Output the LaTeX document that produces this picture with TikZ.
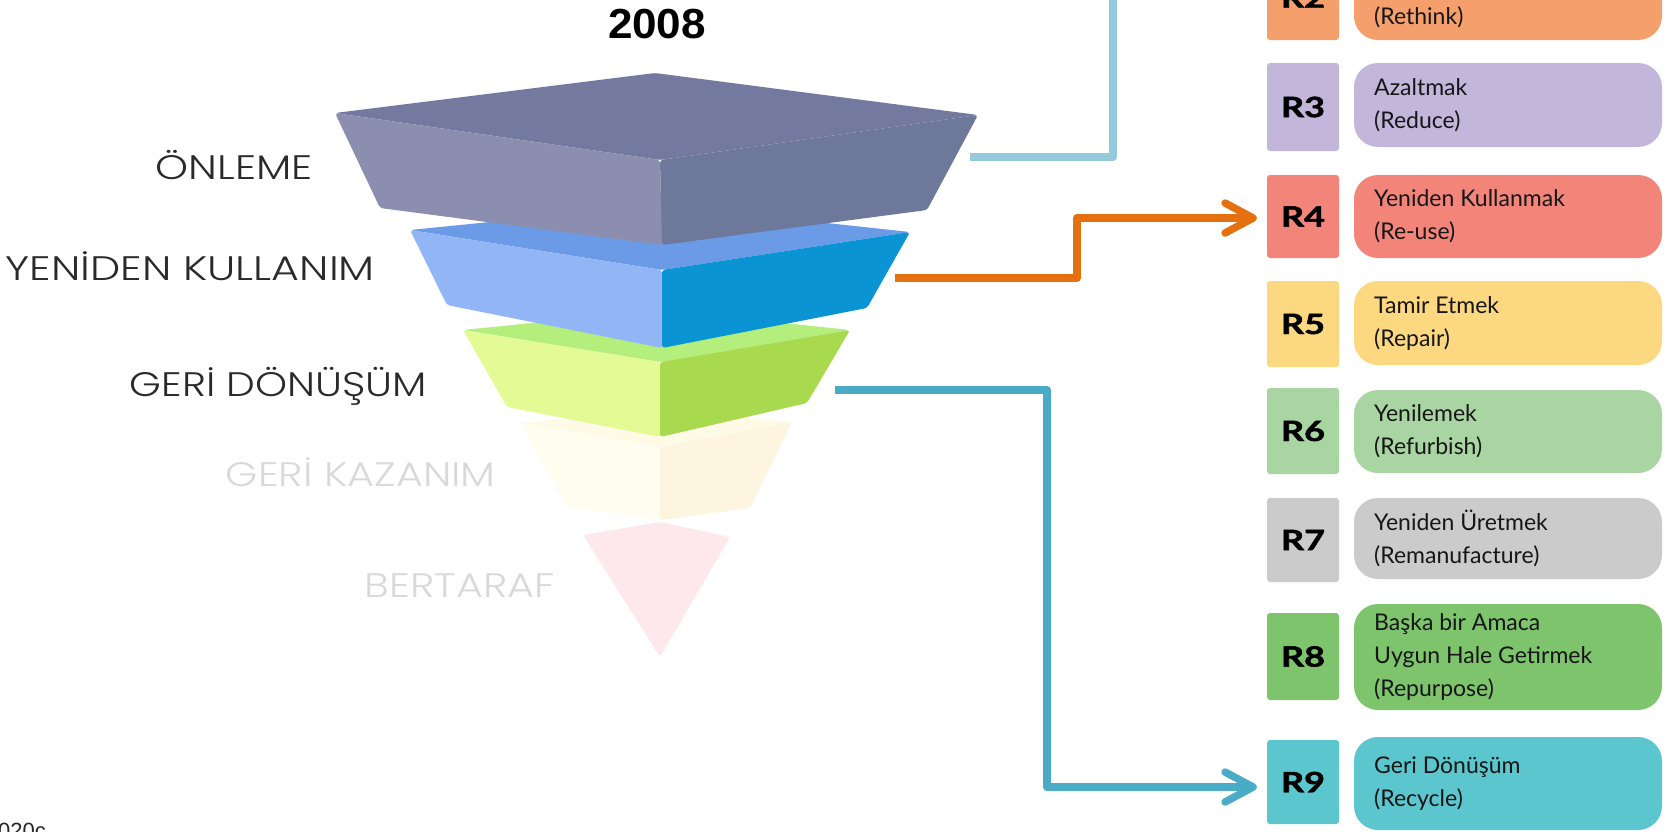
\documentclass[tikz,border=0pt]{standalone}
\usepackage{fontspec}
\usepackage{graphicx}
\usetikzlibrary{arrows.meta}
\newfontfamily\pillfont{Lato}
\newfontfamily\rfont{Lato}[BoldFeatures={FakeBold=1.6}]
\newfontfamily\labfont{Poppins Light}
\newfontfamily\arialfont{Liberation Sans}

\definecolor{cRtwo}{HTML}{F5A06C}
\definecolor{cRthree}{HTML}{C2B7DB}
\definecolor{cRfour}{HTML}{F3847A}
\definecolor{cRfive}{HTML}{FCD880}
\definecolor{cRsix}{HTML}{A8D5A2}
\definecolor{cRseven}{HTML}{CBCBCB}
\definecolor{cReight}{HTML}{7DC46C}
\definecolor{cRnine}{HTML}{5BC6CE}
\definecolor{pilltext}{HTML}{161616}
\definecolor{labdark}{HTML}{2A2A2A}
\definecolor{labfaint}{HTML}{D9D9D9}
\definecolor{lineA}{HTML}{94CADB}
\definecolor{lineB}{HTML}{E5700F}
\definecolor{lineC}{HTML}{4AABC6}
\definecolor{gTop}{HTML}{7479A0}
\definecolor{gLeft}{HTML}{8C8EAF}
\definecolor{gRight}{HTML}{6D789B}
\definecolor{bTop}{HTML}{6B9BE6}
\definecolor{bLeft}{HTML}{92B5F6}
\definecolor{bRight}{HTML}{0A94D3}
\definecolor{nTop}{HTML}{B4EE7C}
\definecolor{nLeft}{HTML}{E4FA94}
\definecolor{nRight}{HTML}{A8D94F}
\definecolor{yTop}{HTML}{FDFBE6}
\definecolor{yLeft}{HTML}{FFFDF0}
\definecolor{yRight}{HTML}{FDF5DF}
\definecolor{pinkc}{HTML}{FDE8EB}

\newcommand\rrow[8]{%
  \node[sqbox, fill=#7, minimum height={#4-#3}] (s#1) at (1303,{(#3+#4)/2}) {};
  \node[rlab] (l#1) at (s#1.center) {\resizebox{44pt}{\height}{#2}};
  \node[pillbox, fill=#7, minimum height={#6-#5}] (p#1) at (1508,{(#5+#6)/2}) {};
  \node[ptext] (t#1) at (1374,{(#5+#6)/2}) {#8};
}

\begin{document}
\begin{tikzpicture}[x=1pt,y=-1pt,
  sqbox/.style={rectangle, rounded corners=3pt, inner sep=0pt, minimum width=72pt},
  pillbox/.style={rectangle, rounded corners=24pt, inner sep=0pt, minimum width=308pt},
  ptext/.style={anchor=west, align=left, inner sep=0pt, font=\pillfont\fontsize{23}{33}\selectfont, text=pilltext},
  rlab/.style={inner sep=0pt, font=\rfont\bfseries\fontsize{28}{30}\selectfont, text=black},
  flab/.style={anchor=base east, inner sep=0pt, font=\labfont\fontsize{34}{40}\selectfont},
  conn/.style={line width=7.5pt, line join=round},
  tip/.style={-{Straight Barb[length=28pt,width=30pt,round]}},
  face/.style={rounded corners=3pt}
]
\useasboundingbox (0,0) rectangle (1672,831);
\fill[white] (0,0) rectangle (1672,831);
\begin{scope}
\clip (0,0) rectangle (1672,831);

% ---- funnel (bottom layer first) ----
\fill[pinkc, face] (583,535) -- (660,522) -- (730,537) -- (660,657) -- cycle;

\fill[yTop, face] (520,423) -- (660,410) -- (792,422) -- (660,447) -- cycle;
\fill[yLeft, face] (520,423) -- (660,447) -- (660,520) -- (567,507) -- cycle;
\fill[yRight, face] (660,447) -- (792,422) -- (750,508) -- (660,520) -- cycle;

\fill[nTop, face] (463,330) -- (660,310) -- (850,330) -- (660,362) -- cycle;
\fill[nLeft, face] (463,330) -- (660,362) -- (660,437) -- (507,407) -- cycle;
\fill[nRight, face] (660,362) -- (850,330) -- (807,403) -- (660,437) -- cycle;

\fill[bTop, face] (410,230) -- (660,205) -- (910,232) -- (662,270) -- cycle;
\fill[bLeft, face] (410,230) -- (662,270) -- (662,348) -- (447,305) -- cycle;
\fill[bRight, face] (662,270) -- (910,232) -- (867,308) -- (662,348) -- cycle;

\fill[gTop, face] (335,113) -- (655,73) -- (978,115) -- (660,160) -- cycle;
\fill[gLeft, face] (335,113) -- (660,160) -- (662,245) -- (380,208) -- cycle;
\fill[gRight, face] (660,160) -- (978,115) -- (927,210) -- (662,245) -- cycle;

% ---- funnel labels ----
\node[flab, text=labdark] (lab1) at (313,179) {\resizebox{157pt}{\height}{ÖNLEME}};
\node[flab, text=labdark] (lab2) at (375,280) {\resizebox{369pt}{\height}{YENİDEN KULLANIM}};
\node[flab, text=labdark] (lab3) at (427,396) {\resizebox{297pt}{\height}{GERİ DÖNÜŞÜM}};
\node[flab, text=labfaint] (lab4) at (496,486) {\resizebox{270pt}{\height}{GERİ KAZANIM}};
\node[flab, text=labfaint] (lab5) at (555,597) {\resizebox{190pt}{\height}{BERTARAF}};

% ---- title ----
\node[inner sep=0pt, font=\arialfont\bfseries\fontsize{42}{44}\selectfont] (yr) at (657,24) {\resizebox{98pt}{\height}{2008}};
\node[anchor=base east, inner sep=0pt, font=\arialfont\fontsize{22}{24}\selectfont, text=black!85] (ref) at (46,838) {2020c};

% ---- R list ----
\node[sqbox, fill=cRtwo, minimum height=85pt] (s2) at (1303,-2.5) {};
\node[rlab] (l2) at (s2.center) {\resizebox{44pt}{\height}{R2}};
\node[pillbox, fill=cRtwo, minimum height=85pt] (p2) at (1508,-2.5) {};
\node[ptext] (t2) at (1374,17) {(Rethink)};

\rrow{3}{R3}{63}{151}{63}{147}{cRthree}{Azaltmak\\(Reduce)}
\rrow{4}{R4}{175}{258}{175}{258}{cRfour}{Yeniden Kullanmak\\(Re-use)}
\rrow{5}{R5}{281}{367}{281}{365}{cRfive}{Tamir Etmek\\(Repair)}
\rrow{6}{R6}{388}{474}{390}{473}{cRsix}{Yenilemek\\(Refurbish)}
\rrow{7}{R7}{498}{582}{498}{579}{cRseven}{Yeniden Üretmek\\(Remanufacture)}
\rrow{8}{R8}{613}{700}{604}{710}{cReight}{Başka bir Amaca\\Uygun Hale Getirmek\\(Repurpose)}
\rrow{9}{R9}{740}{824}{737}{830}{cRnine}{Geri Dönüşüm\\(Recycle)}

% ---- connectors ----
\coordinate (f1) at (970,157);
\coordinate (topend) at (1113,-10);
\coordinate (f2) at (895,278);
\coordinate (f3) at (835,390);
\draw[conn, lineA] (f1) -| (topend);
\draw[conn, lineB, tip] (f2) -- ++(182,0) |- ([xshift=-10pt,yshift=-1.5pt]s4.west);
\draw[conn, lineC, tip] (f3) -- ++(212,0) |- ([xshift=-10pt,yshift=-5pt]s9.west);
\end{scope}
\end{tikzpicture}
\end{document}
